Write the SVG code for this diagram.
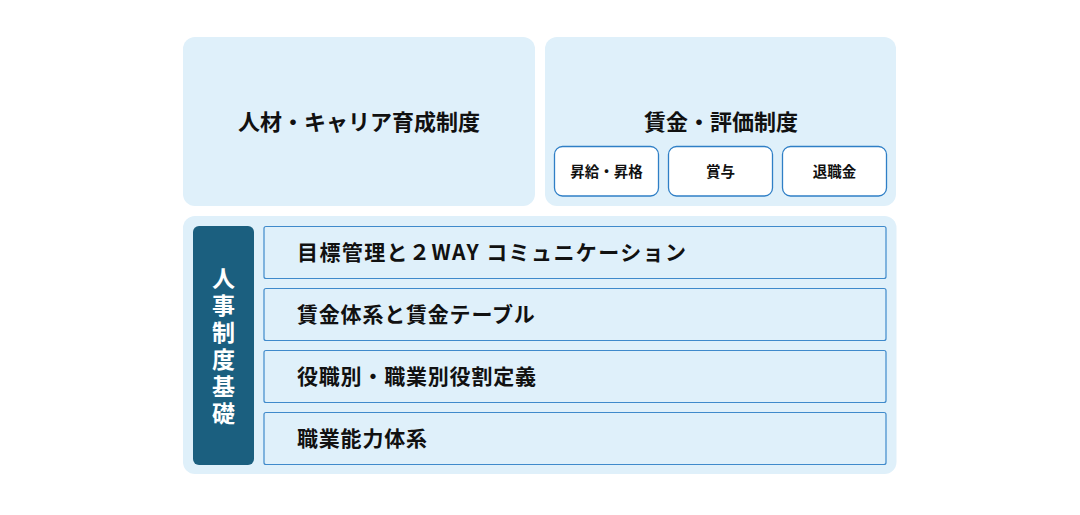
<svg xmlns="http://www.w3.org/2000/svg" width="1080" height="515" viewBox="0 0 1080 515">
<style>
.panel{fill:#dff0fa}
.sub{fill:#ffffff;stroke:#2f7fc6;stroke-width:1.3}
.row{fill:#dff0fa;stroke:#3f8acb;stroke-width:1.2}
.t{font-family:"Noto Sans CJK JP","Noto Sans",sans-serif;font-weight:700;fill:#111}
.title{font-size:22px}
.small{font-size:14.5px}
.rowt{font-size:21px;letter-spacing:0.8px}
.side{font-family:"Noto Sans CJK JP","Noto Sans",sans-serif;font-weight:700;fill:#ffffff;font-size:23px;writing-mode:vertical-rl;letter-spacing:4px}
</style>
<rect width="1080" height="515" fill="#ffffff"/>
<g id="career">
<rect class="panel" x="183" y="37" width="352" height="169" rx="12"/>
<text class="t title" x="359" y="130" text-anchor="middle">人材・キャリア育成制度</text>
</g>
<g id="wage">
<rect class="panel" x="545" y="37" width="351" height="169" rx="12"/>
<text class="t title" x="721" y="130" text-anchor="middle">賃金・評価制度</text>
</g>
<g id="raise">
<rect class="sub" x="554.5" y="146.5" width="104" height="49.5" rx="8"/>
<text class="t small" x="606.5" y="176.5" text-anchor="middle">昇給・昇格</text>
</g>
<g id="bonus">
<rect class="sub" x="668.5" y="146.5" width="104" height="49.5" rx="8"/>
<text class="t small" x="720.5" y="176.5" text-anchor="middle">賞与</text>
</g>
<g id="retire">
<rect class="sub" x="782.5" y="146.5" width="104" height="49.5" rx="8"/>
<text class="t small" x="834.5" y="176.5" text-anchor="middle">退職金</text>
</g>
<g id="foundation">
<rect class="panel" x="183" y="216" width="713.5" height="258" rx="12"/>
<rect x="193" y="226" width="61" height="239" rx="6" fill="#1b5f7f"/>
<text class="side" x="223.5" y="267">人事制度基礎</text>
</g>
<g id="row1">
<rect class="row" x="264" y="226.5" width="622" height="52" rx="2"/>
<text class="t rowt" x="297" y="260" style="letter-spacing:1.4px">目標管理と２WAY コミュニケーション</text>
</g>
<g id="row2">
<rect class="row" x="264" y="288.5" width="622" height="52" rx="2"/>
<text class="t rowt" x="297" y="322">賃金体系と賃金テーブル</text>
</g>
<g id="row3">
<rect class="row" x="264" y="350.5" width="622" height="52" rx="2"/>
<text class="t rowt" x="297" y="384">役職別・職業別役割定義</text>
</g>
<g id="row4">
<rect class="row" x="264" y="412.5" width="622" height="52" rx="2"/>
<text class="t rowt" x="297" y="446">職業能力体系</text>
</g>
<g id="connectors"></g>
</svg>
